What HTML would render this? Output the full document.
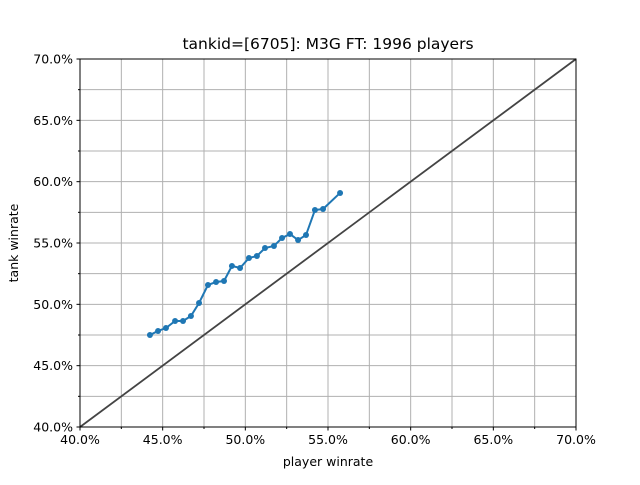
<!DOCTYPE html>
<html><head><meta charset="utf-8"><style>body{margin:0;background:#fff}svg{font-family:"DejaVu Sans","Liberation Sans",sans-serif}</style></head>
<body>
<svg id="c" width="640" height="480"></svg>
<script>
const xs=[0.4423,0.4472,0.452,0.4575,0.4623,0.4671,0.472,0.4774,0.4823,0.4871,0.4919,0.4968,0.5022,0.507,0.5119,0.5173,0.5222,0.527,0.5319,0.5367,0.5421,0.547,0.5573];
const ys=[0.475,0.4783,0.4807,0.4864,0.4864,0.4905,0.5011,0.5158,0.5182,0.519,0.5313,0.5296,0.5378,0.5394,0.5459,0.5476,0.5541,0.5573,0.5524,0.5565,0.5769,0.5777,0.5908];
const xTicks=[0.40,0.45,0.50,0.55,0.60,0.65,0.70];
const yTicks=[0.40,0.45,0.50,0.55,0.60,0.65,0.70];
const L=80,R=576,T=59,B=427;
const X=v=>L+(v-0.4)/0.3*(R-L), Y=v=>B-(v-0.4)/0.3*(B-T);
const s=document.getElementById('c');const NS='http://www.w3.org/2000/svg';
function mk(t,a,p){const e=document.createElementNS(NS,t);for(const k in a)e.setAttribute(k,a[k]);(p||s).appendChild(e);return e;}
for(let i=0;i<13;i++){const v=0.4+i*0.025;
const g1=mk('line',{x1:X(v),x2:X(v),y1:T,y2:B,stroke:'#b0b0b0','stroke-width':1});


const g2=mk('line',{x1:L,x2:R,y1:Y(v),y2:Y(v),stroke:'#b0b0b0','stroke-width':1});


mk('line',{x1:X(v),x2:X(v),y1:B,y2:B+(i%2?2:3.5),stroke:'#000'});
mk('line',{x1:L,x2:L-(i%2?2:3.5),y1:Y(v),y2:Y(v),stroke:'#000'});}
xTicks.forEach(v=>{const t=mk('text',{x:X(v),y:B+17,'text-anchor':'middle','font-size':12.5});t.textContent=(v*100).toFixed(1)+'%';

});
yTicks.forEach(v=>{const t=mk('text',{x:L-7,y:Y(v)+4.5,'text-anchor':'end','font-size':12.5});t.textContent=(v*100).toFixed(1)+'%';

});
const d=mk('line',{x1:X(0.4),y1:Y(0.4),x2:X(0.7),y2:Y(0.7),stroke:'#444','stroke-width':1.8});


const pl=mk('polyline',{points:xs.map((x,i)=>X(x)+','+Y(ys[i])).join(' '),fill:'none',stroke:'#1f77b4','stroke-width':2});


xs.forEach((x,i)=>{const c=mk('circle',{cx:X(x),cy:Y(ys[i]),r:3,fill:'#1f77b4'});

});
const fr=mk('rect',{x:L,y:T,width:R-L,height:B-T,fill:'none',stroke:'#000','stroke-width':1});


const ti=mk('text',{x:328,y:49,'text-anchor':'middle','font-size':15.5});ti.textContent='tankid=[6705]: M3G FT: 1996 players';


const xl=mk('text',{x:328,y:466,'text-anchor':'middle','font-size':12.5});xl.textContent='player winrate';


const yl=mk('text',{x:18,y:243,'text-anchor':'middle','font-size':12.5,transform:'rotate(-90 18 243)'});yl.textContent='tank winrate';


</script>
</body></html>
